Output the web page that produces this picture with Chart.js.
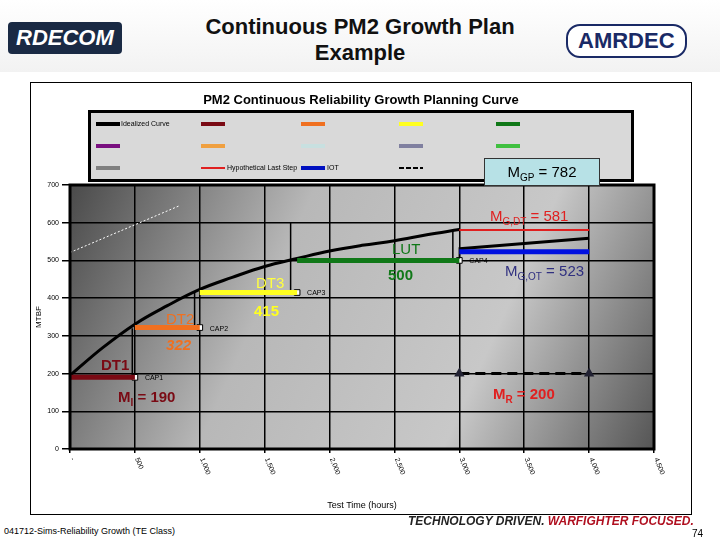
<!DOCTYPE html>
<html><head><meta charset="utf-8">
<script src="https://cdn.jsdelivr.net/npm/chart.js@4/dist/chart.umd.min.js"></script>
<style>
body{margin:0;width:720px;height:540px;background:#fff;font-family:Arial,"Liberation Sans",sans-serif;position:relative;overflow:hidden}
#hdr{position:absolute;left:0;top:0;width:720px;height:72px;background:linear-gradient(#fff,#f2f2f2)}
#ttl{position:absolute;left:150px;top:14px;width:420px;text-align:center;font-weight:bold;font-size:22px;line-height:26px;color:#111}
#rd{position:absolute;left:8px;top:22px;font:italic bold 22px Arial;color:#fff;background:#1a2a44;padding:3px 8px;border-radius:4px}
#am{position:absolute;left:566px;top:24px;font:bold 22px Arial;color:#1a2a66;border:2px solid #1a2a66;border-radius:14px;padding:2px 10px;background:#fff}
#frame{position:absolute;left:30px;top:82px;width:660px;height:431px;border:1px solid #000;background:#fff}
#sub{position:absolute;left:30px;top:92px;width:662px;text-align:center;font-weight:bold;font-size:13px}
#leg{position:absolute;left:88px;top:110px;width:540px;height:66px;background:#d9d9d9;border:3px solid #000;font-size:7px}
.l{position:absolute;height:4px;width:24px}
.t{position:absolute;font-size:7px}
#mgp{position:absolute;left:484px;top:158px;width:114px;height:26px;background:#b7e1e6;border:1px solid #333;font-size:15px;line-height:26px;text-align:center}
#foot{position:absolute;left:4px;top:526px;font-size:9px}
#tdw{position:absolute;left:408px;top:514px;font:italic bold 12px Arial;color:#222}
#tdw span{color:#b01020}
#pg{position:absolute;left:692px;top:528px;font-size:10px}
#box{position:absolute;left:30px;top:82px;width:662px;height:433px}
</style></head><body>
<div id="hdr"><div id="rd">RDECOM</div><div id="ttl">Continuous PM2 Growth Plan<br>Example</div><div id="am">AMRDEC</div></div>
<div id="frame"></div>
<div id="box"><canvas id="c"></canvas></div>
<div id="sub">PM2 Continuous Reliability Growth Planning Curve</div>
<div id="leg">
<div class="l" style="left:5px;top:9px;background:#000"></div><div class="t" style="left:30px;top:7px">Idealized Curve</div>
<div class="l" style="left:110px;top:9px;background:#7a0a14"></div>
<div class="l" style="left:210px;top:9px;background:#f07020"></div>
<div class="l" style="left:308px;top:9px;background:#ffff20"></div>
<div class="l" style="left:405px;top:9px;background:#107818"></div>
<div class="l" style="left:5px;top:31px;background:#7a1080"></div>
<div class="l" style="left:110px;top:31px;background:#f0a040"></div>
<div class="l" style="left:210px;top:31px;background:#c8e0e0"></div>
<div class="l" style="left:308px;top:31px;background:#8080a0"></div>
<div class="l" style="left:405px;top:31px;background:#40c040"></div>
<div class="l" style="left:5px;top:53px;background:#808080"></div>
<div class="l" style="left:110px;top:54px;height:2px;background:#e02020"></div><div class="t" style="left:136px;top:51px">Hypothetical Last Step</div>
<div class="l" style="left:210px;top:53px;background:#0010c0"></div><div class="t" style="left:236px;top:51px">IOT</div>
<div class="l" style="left:308px;top:54px;height:2px;background:repeating-linear-gradient(90deg,#000 0 5px,transparent 5px 7px)"></div>
</div>
<div id="mgp">M<sub style="font-size:10px">GP</sub> = 782</div>
<div id="foot">041712-Sims-Reliability Growth (TE Class)</div>
<div id="tdw">TECHNOLOGY DRIVEN. <span>WARFIGHTER FOCUSED.</span></div>
<div id="pg">74</div>
<script>
var curveX = [0,250,500,750,1000,1250,1500,1750,2000,2250,2500,2750,3000];
var curveY = [195,268,331,380,423,455,484,505,525,540,552,568,582];
var tailX = [3000,4000];
var tailY = [531,559];
var stepX = [[0,500],[500,1000],[1000,1750],[1750,3000]];
var stepY = [190,322,415,500];
var stepColors = ['#7a0a14','#f07020','#ffff20','#107818'];
var riseX = [480,960,1700,2950,3000];
var riseLo = [190,322,415,500,505];
var riseHi = [320,418,600,582,535];
var capX = [500,1000,1750,3000];
var capNames = ['CAP1','CAP2','CAP3','CAP4'];
var mgDT = 581, mgOT = 523, mR = 200;
var endX = [3000,4000];
var guideX = [0,850], guideY = [521,646];
var xTicks = ['-','500','1,000','1,500','2,000','2,500','3,000','3,500','4,000','4,500'];

function seg(x, y) { return x.map(function (v, i) { return {x: v, y: y[i]}; }); }
var ds = [];
ds.push({data: seg(guideX, guideY), borderColor: '#fff', borderWidth: 1, borderDash: [2, 2], pointRadius: 0});
stepX.forEach(function (s, i) {
  ds.push({data: seg(s, [stepY[i], stepY[i]]), borderColor: stepColors[i], borderWidth: 5, pointRadius: 0});
});
ds.push({data: seg(endX, [mgDT, mgDT]), borderColor: '#e02020', borderWidth: 2, pointRadius: 0});
ds.push({data: seg(endX, [mgOT, mgOT]), borderColor: '#0010e0', borderWidth: 5, pointRadius: 0});
ds.push({data: seg(endX, [mR, mR]), borderColor: '#000', borderWidth: 3, borderDash: [10, 6], pointStyle: 'triangle', pointRadius: 3, pointBackgroundColor: '#223', pointBorderColor: '#223'});
riseX.forEach(function (x, i) {
  ds.push({data: seg([x, x], [riseLo[i], riseHi[i]]), borderColor: '#000', borderWidth: 1.5, pointRadius: 0});
});
ds.push({data: seg(curveX, curveY), borderColor: '#000', borderWidth: 3, pointRadius: 0, tension: 0.4});
ds.push({data: seg(tailX, tailY), borderColor: '#000', borderWidth: 3, pointRadius: 0});
ds.push({data: seg(capX, stepY), showLine: false, pointStyle: 'rect', pointRadius: 4, pointBackgroundColor: '#fff', pointBorderColor: '#000', pointBorderWidth: 1});

var labels = [
  {x: 239, y: 210, t: 'DT1', c: '#7a0a14', f: 'bold 15px Arial'},
  {x: 370, y: 125, t: 'M', sub: 'I', rest: ' = 190', c: '#7a0a14', f: 'bold 15px Arial'},
  {x: 740, y: 332, t: 'DT2', c: '#f07020', f: '15px Arial'},
  {x: 740, y: 263, t: '322', c: '#f07020', f: 'italic bold 15px Arial'},
  {x: 1433, y: 427, t: 'DT3', c: '#ffff40', f: '15px Arial'},
  {x: 1418, y: 353, t: '415', c: '#ffff20', f: 'bold 15px Arial'},
  {x: 2481, y: 517, t: 'LUT', c: '#107818', f: '15px Arial'},
  {x: 2450, y: 448, t: '500', c: '#107818', f: 'bold 15px Arial'},
  {x: 3236, y: 605, t: 'M', sub: 'G,DT', rest: ' = 581', c: '#e02020', f: '15px Arial'},
  {x: 3352, y: 459, t: 'M', sub: 'G,OT', rest: ' = 523', c: '#303080', f: '15px Arial'},
  {x: 3259, y: 133, t: 'M', sub: 'R', rest: ' = 200', c: '#e02020', f: 'bold 15px Arial'}
];
var deco = {
  id: 'deco',
  beforeDraw: function (ch) {
    var a = ch.chartArea, g = ch.ctx;
    var gr = g.createLinearGradient(a.left, a.top, a.right, a.bottom);
    gr.addColorStop(0, '#4a4a4a'); gr.addColorStop(0.35, '#b8b8b8');
    gr.addColorStop(0.7, '#c8c8c8'); gr.addColorStop(1, '#555');
    g.fillStyle = gr; g.fillRect(a.left, a.top, a.right - a.left, a.bottom - a.top);
  },
  afterDraw: function (ch) {
    var g = ch.ctx, xs = ch.scales.x, ys = ch.scales.y, a = ch.chartArea;
    g.save();
    g.strokeStyle = '#000'; g.lineWidth = 3;
    g.strokeRect(a.left, a.top, a.right - a.left, a.bottom - a.top);
    g.textBaseline = 'alphabetic'; g.textAlign = 'left';
    labels.forEach(function (l) {
      var px = xs.getPixelForValue(l.x), py = ys.getPixelForValue(l.y);
      g.fillStyle = l.c; g.font = l.f; g.fillText(l.t, px, py);
      if (l.sub) {
        var w = g.measureText(l.t).width;
        g.font = l.f.replace('15px', '10px'); g.fillText(l.sub, px + w, py + 4);
        var w2 = g.measureText(l.sub).width;
        g.font = l.f; g.fillText(l.rest, px + w + w2, py);
      }
    });
    g.fillStyle = '#000'; g.font = '7px Arial';
    capX.forEach(function (x, i) {
      g.fillText(capNames[i], xs.getPixelForValue(x) + 10, ys.getPixelForValue(stepY[i]) + 3);
    });
    // x tick labels rotated clockwise, as in the original
    g.textBaseline = 'middle';
    xTicks.forEach(function (t, i) {
      g.save();
      g.translate(xs.getPixelForValue(i * 500) + 2, a.bottom + 9);
      g.rotate(Math.PI * 0.38);
      g.fillText(t, 0, 0);
      g.restore();
    });
    g.restore();
  }
};
new Chart(document.getElementById('c'), {
  type: 'line',
  data: {datasets: ds},
  plugins: [deco],
  options: {
    responsive: true, maintainAspectRatio: false, animation: false,
    layout: {padding: {top: 103, right: 38, left: 0, bottom: 0}},
    plugins: {legend: {display: false}, tooltip: {enabled: false}},
    scales: {
      x: {type: 'linear', min: 0, max: 4500,
        afterFit: function (s) { s.height = 66; },
        ticks: {stepSize: 500, color: 'rgba(0,0,0,0)', font: {size: 7}},
        grid: {color: '#000', lineWidth: 1.5, tickLength: 4},
        title: {display: true, text: 'Test Time (hours)', color: '#000', font: {size: 9}}},
      y: {min: 0, max: 700,
        afterFit: function (s) { s.width = 40; },
        ticks: {stepSize: 100, color: '#000', font: {size: 7}},
        grid: {color: '#000', lineWidth: 1.5},
        title: {display: true, text: 'MTBF', color: '#000', font: {size: 8}}}
    }
  }
});
</script>
</body></html>
